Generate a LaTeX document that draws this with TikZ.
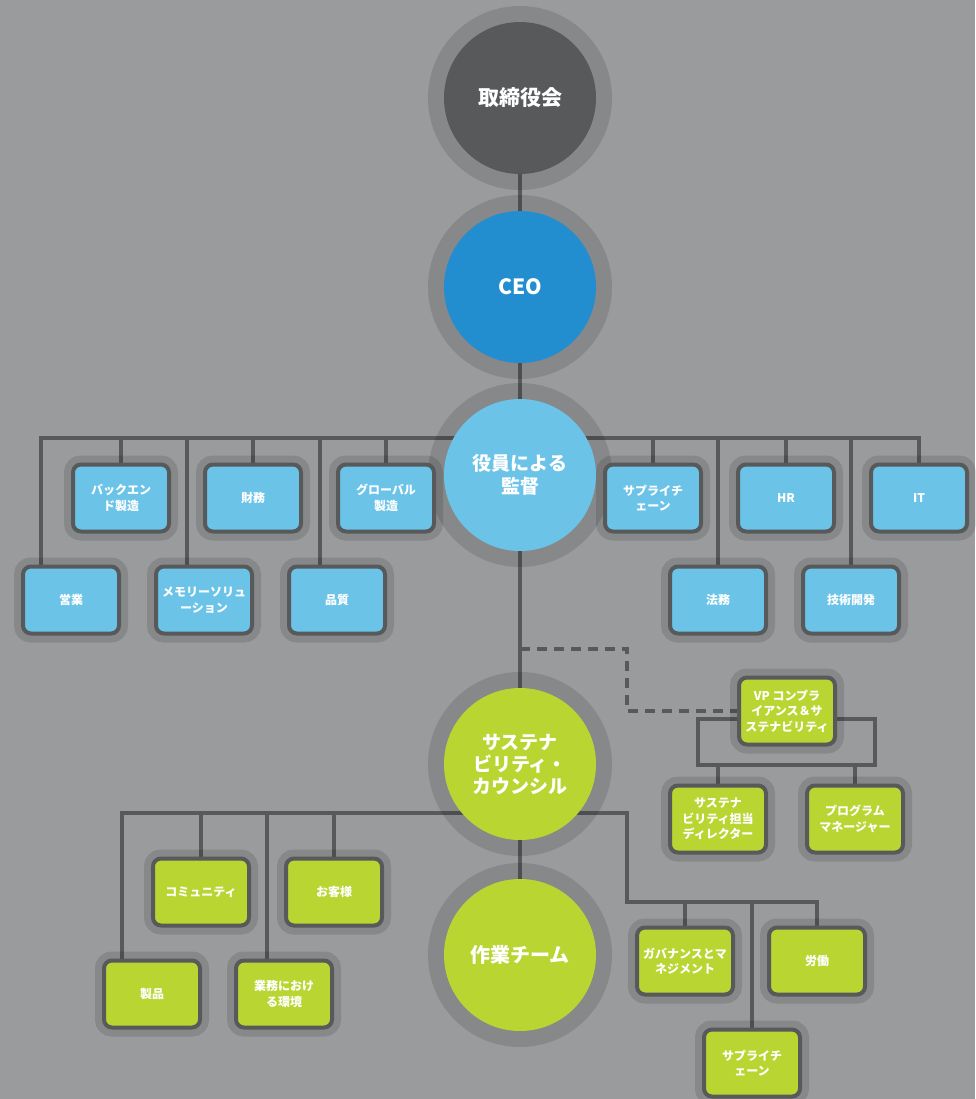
\documentclass[tikz,border=0pt]{standalone}
\usepackage{fontspec}
\setmainfont{Noto Sans CJK JP}
\usepackage{xcolor}
\definecolor{colBg}{HTML}{9A9B9D}
\definecolor{colLine}{HTML}{58595B}
\definecolor{colBoard}{HTML}{58595B}
\definecolor{colCeo}{HTML}{238ECF}
\definecolor{colSky}{HTML}{6BC4E8}
\definecolor{colLime}{HTML}{B9D532}
\usepackage{tikz}
\pgfdeclarelayer{back}
\pgfdeclarelayer{wires}
\pgfsetlayers{back,wires,main}
\tikzset{
  hub/.style={circle, fill=#1, minimum size=152pt, inner sep=0pt, text=white,
              align=center, font=\bfseries\fontsize{21}{23}\selectfont,
              preaction={draw=black, draw opacity=0.12, line width=32pt}},
  unit/.style={rectangle, rounded corners=8pt, fill=#1, draw=colLine, line width=4pt,
               minimum width=96pt, minimum height=67pt, inner sep=1pt, text=white,
               align=center, font=\bfseries\fontsize{12}{15.5}\selectfont,
               preaction={draw=black, draw opacity=0.12, line width=18pt}},
  wire/.style={draw=colLine, line width=4pt},
}

\begin{document}
\begin{tikzpicture}[x=1pt, y=-1pt]
        \useasboundingbox (0,0) rectangle (975,1099);
        \begin{pgfonlayer}{back}
          \fill[colBg] (0,0) rectangle (975,1099);
        \end{pgfonlayer}
        % Cerchi centrali
        \node[hub=colBoard] (board) at (520,98) {取締役会};
        \node[hub=colCeo] (ceo) at (520,287) {CEO};
        \node[hub=colSky, font=\bfseries\fontsize{19}{23}\selectfont] (oversight) at (520,475) {役員による\\監督};
        \node[hub=colLime, font=\bfseries\fontsize{19}{22}\selectfont] (council) at (520,764) {サステナ\\ビリティ・\\カウンシル};
        \node[hub=colLime, font=\bfseries\fontsize{20}{23}\selectfont] (team) at (520,955) {作業チーム};
        % Reparti (riga alta)
        \node[unit=colSky] (backend) at (121,498) {バックエン\\ド製造};
        \node[unit=colSky] (finance) at (253,498) {財務};
        \node[unit=colSky] (globalmfg) at (386,498) {グローバル\\製造};
        \node[unit=colSky] (supply) at (653,498) {サプライチ\\ェーン};
        \node[unit=colSky] (hr) at (786,498) {HR};
        \node[unit=colSky] (it) at (919,498) {IT};
        % Reparti (riga bassa)
        \node[unit=colSky] (sales) at (71,600) {営業};
        \node[unit=colSky] (memory) at (204,600) {メモリーソリュ\\ーション};
        \node[unit=colSky] (quality) at (337,600) {品質};
        \node[unit=colSky] (legal) at (718,600) {法務};
        \node[unit=colSky] (rnd) at (851,600) {技術開発};
        % VP e staff
        \node[unit=colLime] (vp) at (787,711) {VP コンプラ\\イアンス＆サ\\ステナビリティ};
        \node[unit=colLime] (director) at (718,819) {サステナ\\ビリティ担当\\ディレクター};
        \node[unit=colLime] (pm) at (855,819) {プログラム\\マネージャー};
        % Gruppi di lavoro
        \node[unit=colLime] (community) at (201,892) {コミュニティ};
        \node[unit=colLime] (customer) at (334,892) {お客様};
        \node[unit=colLime] (product) at (152,994) {製品};
        \node[unit=colLime] (workplace) at (284,994) {業務におけ\\る環境};
        \node[unit=colLime] (governance) at (685,961) {ガバナンスとマ\\ネジメント};
        \node[unit=colLime] (labor) at (817,961) {労働};
        \node[unit=colLime] (supplyb) at (752,1063) {サプライチ\\ェーン};
        % Linee
        \coordinate (topbus) at (520,438);
        \coordinate (tap) at (520,649);
        \coordinate (elbow) at (627,813);
        \coordinate (knee) at (627,902);
        \coordinate (brTL) at (698,719);
        \coordinate (brBR) at (875,765);
        \begin{pgfonlayer}{wires}
          \draw[wire] (board) -- (team);
          \draw[wire] ([xshift=-30pt]sales.north) |- (it.north |- topbus) -- (it.north);
          \foreach \n in {backend, finance, globalmfg, supply, legal, hr, rnd}
            \draw[wire] (\n.north) -- (\n.north |- topbus);
          \foreach \n in {memory, quality}
            \draw[wire] ([xshift=-17pt]\n.north) -- ([xshift=-17pt]\n.north |- topbus);
          \draw[wire, dash pattern=on 10pt off 7pt] (tap) -| (627,711) -- (vp.west);
          \draw[wire] (brTL) rectangle (brBR);
          \draw[wire] (director.north) -- (director.north |- brBR);
          \draw[wire] (pm.north) -- (pm.north |- brBR);
          \draw[wire] ([xshift=-30pt]product.north) |- (elbow) -- (knee) -| (labor.north);
          \draw[wire] ([xshift=-17pt]workplace.north) -- ([xshift=-17pt]workplace.north |- elbow);
          \foreach \n in {community, customer}
            \draw[wire] (\n.north) -- (\n.north |- elbow);
          \foreach \n in {governance, supplyb}
            \draw[wire] (\n.north) -- (\n.north |- knee);
        \end{pgfonlayer}
    \end{tikzpicture}
\end{document}
